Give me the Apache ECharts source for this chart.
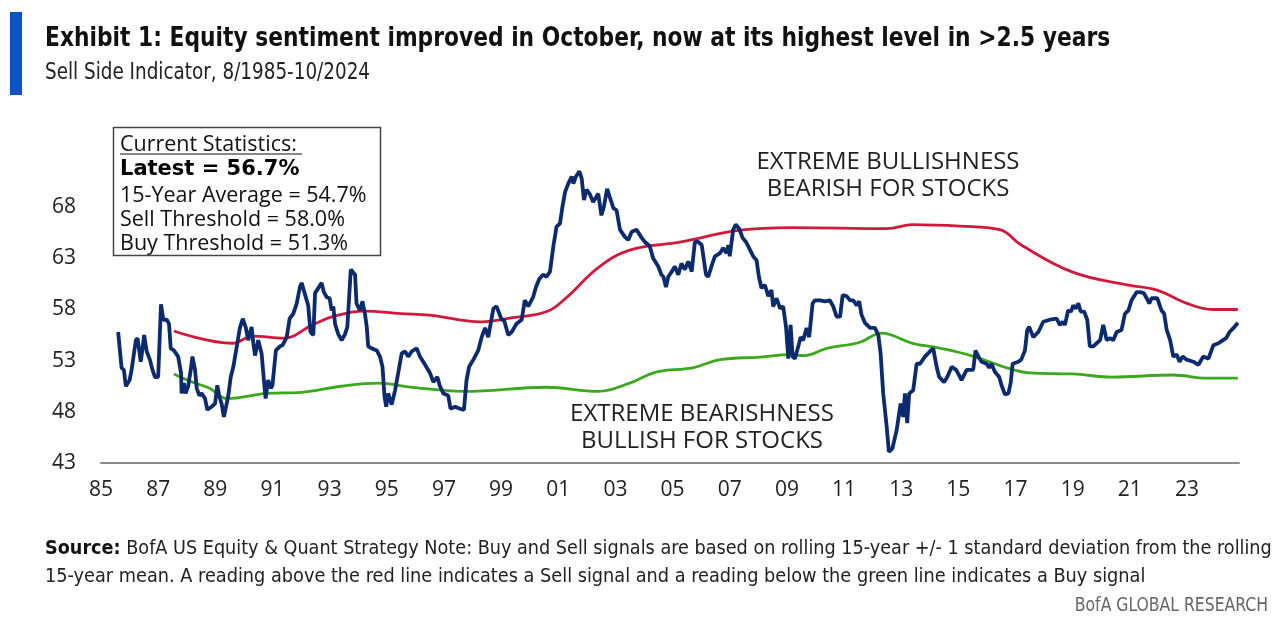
<!DOCTYPE html>
<html>
<head>
<meta charset="utf-8">
<script src="https://cdn.jsdelivr.net/npm/echarts@6/dist/echarts.min.js"></script>
<style>
html,body{margin:0;padding:0;background:#fff;}
#chart{width:1280px;height:629px;}
</style>
</head>
<body>
<div id="chart"></div>
<script>
// ---- Data ----
const xTickYears = [1985,1987,1989,1991,1993,1995,1997,1999,2001,2003,2005,2007,2009,2011,2013,2015,2017,2019,2021,2023];
const yTicks = [43,48,53,58,63,68];

const ssiDates = [1985.60,1985.72,1985.80,1985.87,1986.00,1986.07,1986.22,1986.28,1986.39,1986.44,1986.51,1986.60,1986.65,1986.71,1986.80,1986.89,1987.00,1987.10,1987.18,1987.30,1987.38,1987.44,1987.55,1987.70,1987.80,1987.82,1987.90,1987.96,1988.05,1988.14,1988.20,1988.29,1988.35,1988.44,1988.52,1988.64,1988.72,1988.87,1988.99,1989.07,1989.14,1989.22,1989.30,1989.45,1989.54,1989.63,1989.77,1989.86,1989.96,1990.07,1990.15,1990.27,1990.33,1990.39,1990.50,1990.62,1990.70,1990.76,1990.85,1990.94,1991.00,1991.12,1991.26,1991.35,1991.50,1991.60,1991.73,1991.85,1991.96,1992.02,1992.25,1992.33,1992.43,1992.49,1992.72,1992.80,1992.90,1993.00,1993.07,1993.13,1993.19,1993.30,1993.42,1993.54,1993.62,1993.74,1993.89,1993.94,1994.06,1994.15,1994.24,1994.30,1994.35,1994.47,1994.65,1994.76,1994.85,1994.92,1994.98,1995.05,1995.17,1995.29,1995.40,1995.52,1995.64,1995.75,1995.87,1996.05,1996.16,1996.34,1996.51,1996.63,1996.77,1996.86,1996.98,1997.15,1997.23,1997.39,1997.56,1997.70,1997.79,1997.88,1998.03,1998.20,1998.32,1998.44,1998.55,1998.73,1998.84,1999.02,1999.10,1999.25,1999.37,1999.54,1999.72,1999.83,1999.95,2000.12,2000.22,2000.34,2000.47,2000.59,2000.71,2000.83,2000.94,2001.06,2001.15,2001.24,2001.35,2001.47,2001.53,2001.62,2001.74,2001.82,2001.90,2001.99,2002.10,2002.22,2002.40,2002.51,2002.60,2002.71,2002.80,2002.93,2003.04,2003.16,2003.33,2003.45,2003.57,2003.74,2003.92,2004.03,2004.20,2004.32,2004.50,2004.61,2004.68,2004.77,2004.85,2004.97,2005.08,2005.20,2005.31,2005.43,2005.55,2005.67,2005.78,2005.90,2006.02,2006.17,2006.25,2006.37,2006.48,2006.66,2006.77,2006.89,2006.95,2007.00,2007.12,2007.21,2007.33,2007.45,2007.57,2007.68,2007.82,2007.94,2008.02,2008.11,2008.23,2008.35,2008.46,2008.52,2008.64,2008.76,2008.87,2008.97,2009.05,2009.13,2009.20,2009.28,2009.40,2009.48,2009.57,2009.69,2009.78,2009.90,2009.98,2010.16,2010.33,2010.50,2010.62,2010.74,2010.86,2010.95,2011.09,2011.21,2011.32,2011.44,2011.53,2011.61,2011.73,2011.91,2012.08,2012.20,2012.28,2012.37,2012.49,2012.57,2012.69,2012.84,2012.98,2013.07,2013.13,2013.21,2013.28,2013.42,2013.54,2013.66,2013.83,2014.01,2014.12,2014.24,2014.33,2014.50,2014.61,2014.77,2014.92,2015.06,2015.11,2015.29,2015.52,2015.60,2015.70,2015.81,2015.99,2016.08,2016.16,2016.28,2016.43,2016.51,2016.63,2016.75,2016.83,2016.90,2017.10,2017.20,2017.33,2017.41,2017.48,2017.62,2017.80,2017.97,2018.20,2018.44,2018.55,2018.65,2018.73,2018.84,2018.94,2019.02,2019.11,2019.20,2019.28,2019.40,2019.51,2019.60,2019.72,2019.84,2019.96,2020.07,2020.19,2020.31,2020.42,2020.54,2020.71,2020.83,2020.95,2021.06,2021.24,2021.35,2021.49,2021.59,2021.68,2021.76,2021.96,2022.11,2022.20,2022.29,2022.41,2022.52,2022.64,2022.74,2022.85,2022.99,2023.22,2023.40,2023.57,2023.75,2023.92,2024.10,2024.26,2024.37,2024.49,2024.63,2024.78];
const ssiValues = [55.8,52.3,52.1,50.5,51.1,52.1,55.0,55.2,52.9,53.9,55.5,53.9,54.0,53.1,52.1,51.4,51.4,58.5,57.0,57.0,56.6,54.2,54.0,53.4,51.8,49.8,50.8,49.8,50.5,52.1,53.4,52.1,50.3,49.6,49.8,49.3,48.2,48.5,48.8,50.6,49.5,48.8,47.5,49.5,51.4,52.4,54.7,56.2,57.1,56.2,55.0,56.3,54.7,53.5,55.0,53.7,51.1,49.3,51.1,50.3,50.6,54.0,54.4,54.5,55.3,57.1,57.6,58.6,60.2,60.6,58.4,55.8,55.5,59.6,60.6,59.7,59.2,59.1,57.9,58.3,56.6,55.6,55.0,55.6,56.3,61.9,61.4,58.6,57.9,58.8,57.5,56.3,54.4,54.2,54.0,53.4,52.4,49.5,48.5,49.8,48.7,50.1,51.8,53.7,53.9,53.4,53.9,54.2,53.4,52.6,51.8,50.9,51.4,50.5,49.8,49.6,48.3,48.5,48.3,48.2,51.1,52.4,53.1,54.0,55.3,56.2,55.3,58.1,58.3,57.0,57.0,55.5,55.8,56.6,57.0,58.9,58.3,59.2,60.2,61.0,61.4,61.2,61.7,64.2,66.1,66.4,68.1,69.5,70.3,71.0,70.3,71.0,71.5,70.8,68.7,69.7,69.3,68.5,69.3,67.2,68.1,69.8,69.0,67.9,67.7,65.8,65.1,64.8,65.6,65.8,65.0,64.6,64.2,63.0,62.2,61.4,61.2,60.2,61.2,61.7,62.2,61.4,62.5,61.9,62.7,61.7,64.6,64.6,64.3,61.4,61.2,62.3,63.2,63.5,64.0,63.5,64.3,63.2,65.8,66.3,65.9,65.0,64.6,64.0,63.2,62.8,61.2,60.1,60.4,59.3,59.9,58.3,59.1,58.1,58.3,56.3,53.2,56.5,53.4,53.2,54.4,55.3,55.0,56.2,55.3,58.6,58.9,58.9,58.8,58.9,58.3,57.3,57.3,59.4,59.3,58.9,58.9,58.4,58.8,57.5,56.7,56.2,56.2,55.5,53.7,49.8,46.6,44.1,44.4,46.2,48.8,47.5,49.8,46.9,49.8,50.1,52.7,52.7,53.4,53.9,54.2,52.4,51.4,50.9,51.4,52.4,52.1,51.4,51.1,52.1,52.1,54.0,53.4,52.9,52.7,52.3,52.7,51.9,51.4,50.6,49.7,49.8,50.8,52.7,52.9,53.1,54.0,56.0,56.3,55.3,55.8,56.8,57.0,57.1,56.5,56.8,56.5,57.9,57.8,58.4,58.1,58.6,57.8,57.8,57.0,54.4,54.4,54.7,55.0,56.5,55.0,55.2,55.0,55.8,56.0,57.6,57.9,58.9,59.7,59.7,59.6,59.1,58.6,59.1,59.1,57.9,57.6,56.0,55.0,53.4,53.6,52.9,53.4,53.1,52.9,52.6,53.4,53.2,54.5,54.7,55.0,55.2,55.8,56.2,56.7];

const sellDates  = [1987.55,1989.60,1990.30,1991.40,1992.40,1993.10,1994.20,1995.50,1996.50,1998.30,1999.40,2000.60,2001.30,2002.40,2003.50,2005.30,2007.36,2009.20,2012.50,2013.40,2015.05,2016.45,2017.20,2019.00,2020.90,2021.95,2023.00,2023.90,2024.78];
const sellValues = [55.9,54.7,55.4,55.2,56.5,57.3,57.85,57.6,57.45,56.8,57.2,57.8,59.2,62.1,63.8,64.6,65.75,66.0,65.9,66.3,66.15,65.8,64.3,61.65,60.4,59.9,58.6,58.0,58.0];

const buyDates  = [1987.55,1988.20,1988.80,1989.40,1990.80,1992.00,1993.40,1994.70,1995.90,1997.70,2000.60,2002.40,2003.50,2004.45,2005.70,2006.66,2008.06,2009.10,2009.60,2010.40,2011.56,2012.30,2013.40,2014.30,2015.50,2016.70,2017.50,2019.00,2020.40,2022.50,2023.70,2024.78];
const buyValues = [51.7,50.9,50.3,49.3,49.8,49.9,50.5,50.8,50.4,50.0,50.4,50.0,50.8,51.9,52.3,53.1,53.35,53.6,53.5,54.2,54.8,55.7,54.7,54.25,53.45,52.3,51.8,51.7,51.4,51.6,51.3,51.3];

const statLines = ['Current Statistics:','Latest = 56.7%','15-Year Average = 54.7%','Sell Threshold = 58.0%','Buy Threshold = 51.3%'];

// ---- Chart ----
const zip = (xs, ys) => xs.map((x, i) => [x, ys[i]]);
const chart = echarts.init(document.getElementById('chart'), null, {renderer: 'canvas'});
const FONT = "'Open Sans', 'Noto Sans', sans-serif";
const NARROW = "'Liberation Sans Narrow', 'DejaVu Sans Condensed', sans-serif";

const option = {
  backgroundColor: '#ffffff',
  animation: false,
  grid: {left: 101, right: 41, top: 156, bottom: 166, containLabel: false},
  xAxis: {
    type: 'value', min: 1985, max: 2024.82,
    axisLine: {show: true, lineStyle: {color: '#8c8c8c', width: 2}},
    axisTick: {show: false},
    splitLine: {show: false},
    axisLabel: {
      customValues: xTickYears,
      formatter: v => String(Math.round(v) % 100).padStart(2, '0'),
      fontFamily: FONT, fontSize: 21, color: '#222', margin: 17
    }
  },
  yAxis: {
    type: 'value', min: 43, max: 73,
    axisLine: {show: false},
    axisTick: {show: false},
    splitLine: {show: false},
    axisLabel: {
      customValues: yTicks,
      fontFamily: FONT, fontSize: 21, color: '#222', margin: 25
    }
  },
  series: [
    {name: 'Sell', type: 'line', data: zip(sellDates, sellValues), smooth: 0.4, showSymbol: false,
     lineStyle: {color: '#d2193c', width: 2.8}, z: 2},
    {name: 'Buy', type: 'line', data: zip(buyDates, buyValues), smooth: 0.4, showSymbol: false,
     lineStyle: {color: '#3ca81e', width: 2.8}, z: 2},
    {name: 'SSI', type: 'line', data: zip(ssiDates, ssiValues), showSymbol: false,
     lineStyle: {color: '#0c2a6e', width: 3.8}, z: 3}
  ],
  graphic: [
    {type: 'rect', shape: {x: 10, y: 12, width: 12, height: 83}, style: {fill: '#0a52c6'}},
    {type: 'text', x: 45, y: 39, scaleX: 0.932, style: {text: 'Exhibit 1: Equity sentiment improved in October, now at its highest level in >2.5 years',
      font: "bold 26px " + NARROW, fill: '#111', verticalAlign: 'middle'}},
    {type: 'text', x: 45, y: 73, scaleX: 0.888, style: {text: 'Sell Side Indicator, 8/1985-10/2024',
      font: "23px " + NARROW, fill: '#222', verticalAlign: 'middle'}},
    {type: 'rect', shape: {x: 113.5, y: 127.5, width: 267, height: 128}, style: {fill: '#fff', stroke: '#444', lineWidth: 1.5}, z: 10},
    {type: 'text', x: 120, y: 145, z: 11, style: {text: statLines[0], font: "21.5px " + FONT, fill: '#111', verticalAlign: 'middle'}},
    {type: 'line', shape: {x1: 120, y1: 154, x2: 302, y2: 154}, style: {stroke: '#111', lineWidth: 1}, z: 11},
    {type: 'text', x: 120, y: 170, z: 11, style: {text: statLines[1], font: "bold 21px 'DejaVu Sans', sans-serif", fill: '#000', verticalAlign: 'middle'}},
    {type: 'text', x: 120, y: 196, z: 11, style: {text: statLines[2], font: "21.5px " + FONT, fill: '#111', verticalAlign: 'middle'}},
    {type: 'text', x: 120, y: 220, z: 11, style: {text: statLines[3], font: "21.5px " + FONT, fill: '#111', verticalAlign: 'middle'}},
    {type: 'text', x: 120, y: 244, z: 11, style: {text: statLines[4], font: "21.5px " + FONT, fill: '#111', verticalAlign: 'middle'}},
    {type: 'text', x: 888, y: 162, style: {text: 'EXTREME BULLISHNESS', font: "24px " + FONT, fill: '#222', align: 'center', verticalAlign: 'middle'}},
    {type: 'text', x: 888, y: 189, style: {text: 'BEARISH FOR STOCKS', font: "24px " + FONT, fill: '#222', align: 'center', verticalAlign: 'middle'}},
    {type: 'text', x: 702, y: 414, style: {text: 'EXTREME BEARISHNESS', font: "24px " + FONT, fill: '#222', align: 'center', verticalAlign: 'middle'}},
    {type: 'text', x: 702, y: 441, style: {text: 'BULLISH FOR STOCKS', font: "24px " + FONT, fill: '#222', align: 'center', verticalAlign: 'middle'}},
    {type: 'text', x: 45, y: 549, scaleX: 0.981, style: {
      text: '{b|Source:} BofA US Equity & Quant Strategy Note: Buy and Sell signals are based on rolling 15-year +/- 1 standard deviation from the rolling',
      font: "20px " + NARROW, fill: '#222', verticalAlign: 'middle',
      rich: {b: {fontFamily: NARROW, fontWeight: 'bold', fontSize: 20, fill: '#111'}}}},
    {type: 'text', x: 45, y: 577, scaleX: 0.985, style: {
      text: '15-year mean. A reading above the red line indicates a Sell signal and a reading below the green line indicates a Buy signal',
      font: "20px " + NARROW, fill: '#222', verticalAlign: 'middle'}},
    {type: 'text', x: 1268, y: 606, scaleX: 0.87, style: {text: 'BofA GLOBAL RESEARCH', font: "20px " + NARROW, fill: '#666', align: 'right', verticalAlign: 'middle'}}
  ]
};
chart.setOption(option);
</script>
</body>
</html>
